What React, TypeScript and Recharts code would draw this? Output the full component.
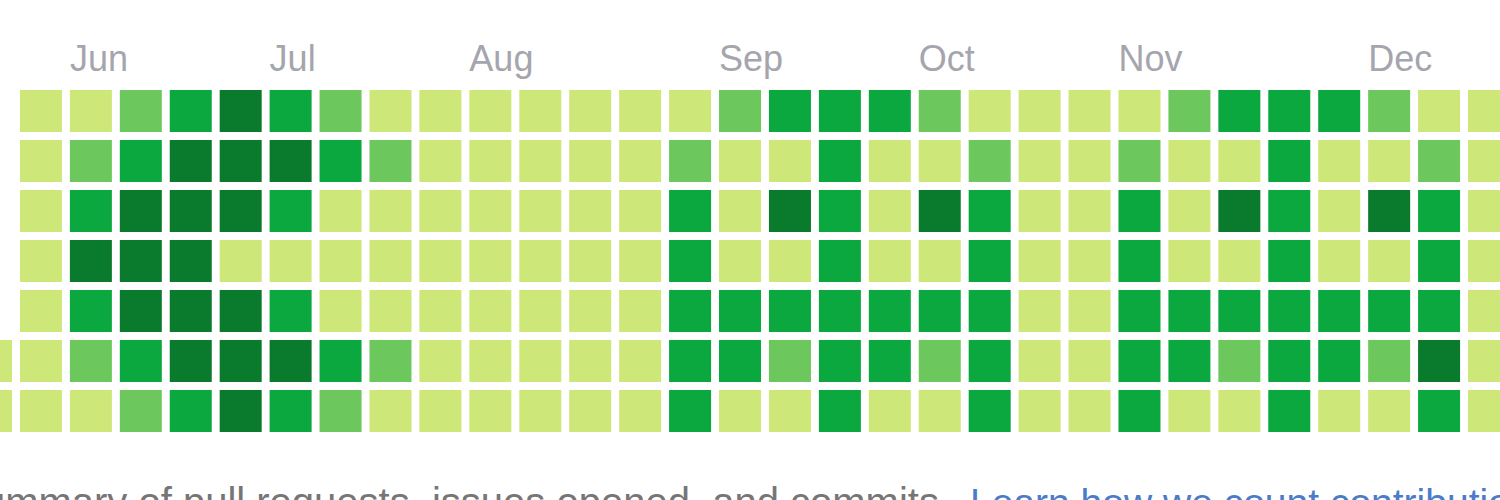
import { ScatterChart, Scatter, XAxis, YAxis } from 'recharts'

// week index (column) of each cell, -1 is the half-hidden column at the left edge
const weeks = [-1, 0, 1, 2, 3, 4, 5, 6, 7, 8, 9, 10, 11, 12, 13, 14, 15, 16, 17, 18, 19, 20, 21, 22, 23, 24, 25, 26, 27, 28, 29]

// activity level per week, one list per weekday row (0 = no cell)
const sunLevels = [0, 1, 1, 2, 3, 4, 3, 2, 1, 1, 1, 1, 1, 1, 1, 2, 3, 3, 3, 2, 1, 1, 1, 1, 2, 3, 3, 3, 2, 1, 1]
const monLevels = [0, 1, 2, 3, 4, 4, 4, 3, 2, 1, 1, 1, 1, 1, 2, 1, 1, 3, 1, 1, 2, 1, 1, 2, 1, 1, 3, 1, 1, 2, 1]
const tueLevels = [0, 1, 3, 4, 4, 4, 3, 1, 1, 1, 1, 1, 1, 1, 3, 1, 4, 3, 1, 4, 3, 1, 1, 3, 1, 4, 3, 1, 4, 3, 1]
const wedLevels = [0, 1, 4, 4, 4, 1, 1, 1, 1, 1, 1, 1, 1, 1, 3, 1, 1, 3, 1, 1, 3, 1, 1, 3, 1, 1, 3, 1, 1, 3, 1]
const thuLevels = [0, 1, 3, 4, 4, 4, 3, 1, 1, 1, 1, 1, 1, 1, 3, 3, 3, 3, 3, 3, 3, 1, 1, 3, 3, 3, 3, 3, 3, 3, 1]
const friLevels = [1, 1, 2, 3, 4, 4, 4, 3, 2, 1, 1, 1, 1, 1, 3, 3, 2, 3, 3, 2, 3, 1, 1, 3, 3, 2, 3, 3, 2, 4, 1]
const satLevels = [1, 1, 1, 2, 3, 4, 3, 2, 1, 1, 1, 1, 1, 1, 3, 1, 1, 3, 1, 1, 3, 1, 1, 3, 1, 1, 3, 1, 1, 3, 1]

const dayRows = [sunLevels, monLevels, tueLevels, wedLevels, thuLevels, friLevels, satLevels]

const monthNames = ['Jun', 'Jul', 'Aug', 'Sep', 'Oct', 'Nov', 'Dec']
const monthWeeks = [1, 5, 9, 14, 18, 22, 27]

const levelColors = ['#ffffff', '#cee779', '#6cc85c', '#0ba83f', '#0a7a2d']
const CELL = 42
const FONT = '"Liberation Sans", Arial, Helvetica, sans-serif'

const cells = dayRows.flatMap((levels, day) =>
  weeks
    .map((week, i) => ({ week, day, level: levels[i] }))
    .filter((c) => c.level > 0)
)

function DayCell(props: any) {
  const { cx, cy, payload } = props
  if (cx == null || cy == null) return null
  return (
    <rect
      x={cx - CELL / 2}
      y={cy - CELL / 2}
      width={CELL}
      height={CELL}
      fill={levelColors[payload.level]}
    />
  )
}

function MonthTick(props: any) {
  const { x, y, payload } = props
  const label = monthNames[monthWeeks.indexOf(payload.value)]
  return (
    <text x={x - CELL / 2} y={y} fill="#a5a5ad" fontSize={36} fontFamily={FONT} textAnchor="start">
      {label}
    </text>
  )
}

export default function App() {
  return (
    <div style={{ position: 'absolute', left: 0, top: 0, width: 1500, height: 500, overflow: 'hidden', background: '#fff' }}>
      <ScatterChart width={1500} height={500} margin={{ top: 0, right: 0, bottom: 0, left: 0 }}>
        <XAxis
          type="number"
          dataKey="week"
          orientation="top"
          height={80}
          domain={[-0.82, 29.22]}
          allowDataOverflow
          ticks={monthWeeks}
          interval={0}
          tick={<MonthTick />}
          axisLine={false}
          tickLine={false}
          tickSize={0}
          tickMargin={9}
        />
        <YAxis type="number" dataKey="day" hide width={0} reversed domain={[-0.62, 7.78]} allowDataOverflow />
        <Scatter data={cells} shape={<DayCell />} isAnimationActive={false} />
      </ScatterChart>
      {/* footer line of the page, cut by the bottom edge like in the screenshot */}
      <svg width={1500} height={500} style={{ position: 'absolute', left: 0, top: 0, pointerEvents: 'none' }}>
        <text x={950} y={516} textAnchor="end" fontSize={40} fontFamily={FONT} fill="#767676">
          Summary of pull requests, issues opened, and commits.
        </text>
        <text x={970} y={516} fontSize={39} fontFamily={FONT} fill="#4a7cc9">
          Learn how we count contributions.
        </text>
      </svg>
    </div>
  )
}
